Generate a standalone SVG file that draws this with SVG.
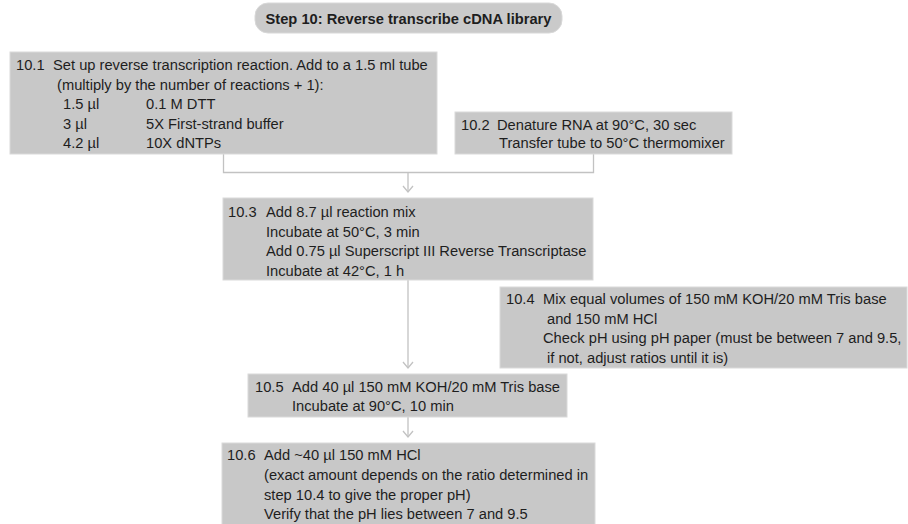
<svg xmlns="http://www.w3.org/2000/svg" width="908" height="524" viewBox="0 0 908 524">
<style>
  .box { fill: #c8c8c8; stroke: #dadada; stroke-width: 1; }
  .pill { fill: #cacaca; stroke: #d8d8d8; stroke-width: 1; }
  text { font-family: "Liberation Sans", Arial, sans-serif; font-size: 14.7px; fill: #1e1e1e; }
  .title { font-weight: bold; text-anchor: middle; }
  .conn { fill: none; stroke: #c2c2c2; stroke-width: 1.3; }
</style>
<defs>
  <marker id="chev" markerUnits="userSpaceOnUse" markerWidth="14" markerHeight="14" refX="0" refY="0" orient="auto" overflow="visible">
    <path d="M-6,-5 L0,0 L-6,5" fill="none" stroke="#c2c2c2" stroke-width="1.3"/>
  </marker>
</defs>
<rect width="908" height="524" fill="#ffffff"/>

<g id="title">
  <rect class="pill" x="255" y="3" width="307" height="30" rx="13"/>
  <text class="title" x="408.5" y="23.5">Step 10: Reverse transcribe cDNA library</text>
</g>

<g id="connectors">
  <path class="conn" d="M223.5,154 V172.5 H593.5 V154"/>
  <path class="conn" d="M408,172.5 V192" marker-end="url(#chev)"/>
  <path class="conn" d="M408,280 V368" marker-end="url(#chev)"/>
  <path class="conn" d="M408,417 V437" marker-end="url(#chev)"/>
</g>

<g id="step-10-1">
  <rect class="box" x="10" y="52" width="427" height="102"/>
  <text x="16" y="70">10.1</text>
  <text x="53" y="70">Set up reverse transcription reaction. Add to a 1.5 ml tube</text>
  <text x="57" y="89.5">(multiply by the number of reactions + 1):</text>
  <text x="63" y="109">1.5 µl</text>
  <text x="146" y="109">0.1 M DTT</text>
  <text x="63" y="128.5">3 µl</text>
  <text x="146" y="128.5">5X First-strand buffer</text>
  <text x="63" y="148">4.2 µl</text>
  <text x="146" y="148">10X dNTPs</text>
</g>

<g id="step-10-2">
  <rect class="box" x="455" y="112" width="277" height="42"/>
  <text x="461" y="130">10.2</text>
  <text x="497" y="130">Denature RNA at 90°C, 30 sec</text>
  <text x="499" y="148">Transfer tube to 50°C thermomixer</text>
</g>

<g id="step-10-3">
  <rect class="box" x="223" y="198" width="370" height="82"/>
  <text x="228" y="217">10.3</text>
  <text x="266" y="217">Add 8.7 µl reaction mix</text>
  <text x="266" y="236.5">Incubate at 50°C, 3 min</text>
  <text x="266" y="256">Add 0.75 µl Superscript III Reverse Transcriptase</text>
  <text x="266" y="275.5">Incubate at 42°C, 1 h</text>
</g>

<g id="step-10-4">
  <rect class="box" x="500" y="287" width="407" height="81"/>
  <text x="506" y="304">10.4</text>
  <text x="543" y="304">Mix equal volumes of 150 mM KOH/20 mM Tris base</text>
  <text x="547" y="323.5">and 150 mM HCl</text>
  <text x="543" y="343">Check pH using pH paper (must be between 7 and 9.5,</text>
  <text x="547" y="362.5">if not, adjust ratios until it is)</text>
</g>

<g id="step-10-5">
  <rect class="box" x="248" y="374" width="319" height="43"/>
  <text x="255" y="392">10.5</text>
  <text x="292" y="392">Add 40 µl 150 mM KOH/20 mM Tris base</text>
  <text x="292" y="411">Incubate at 90°C, 10 min</text>
</g>

<g id="step-10-6">
  <rect class="box" x="222" y="443" width="373" height="90"/>
  <text x="227" y="460">10.6</text>
  <text x="264" y="460">Add ~40 µl 150 mM HCl</text>
  <text x="264" y="480">(exact amount depends on the ratio determined in</text>
  <text x="264" y="500">step 10.4 to give the proper pH)</text>
  <text x="264" y="519">Verify that the pH lies between 7 and 9.5</text>
</g>
</svg>
